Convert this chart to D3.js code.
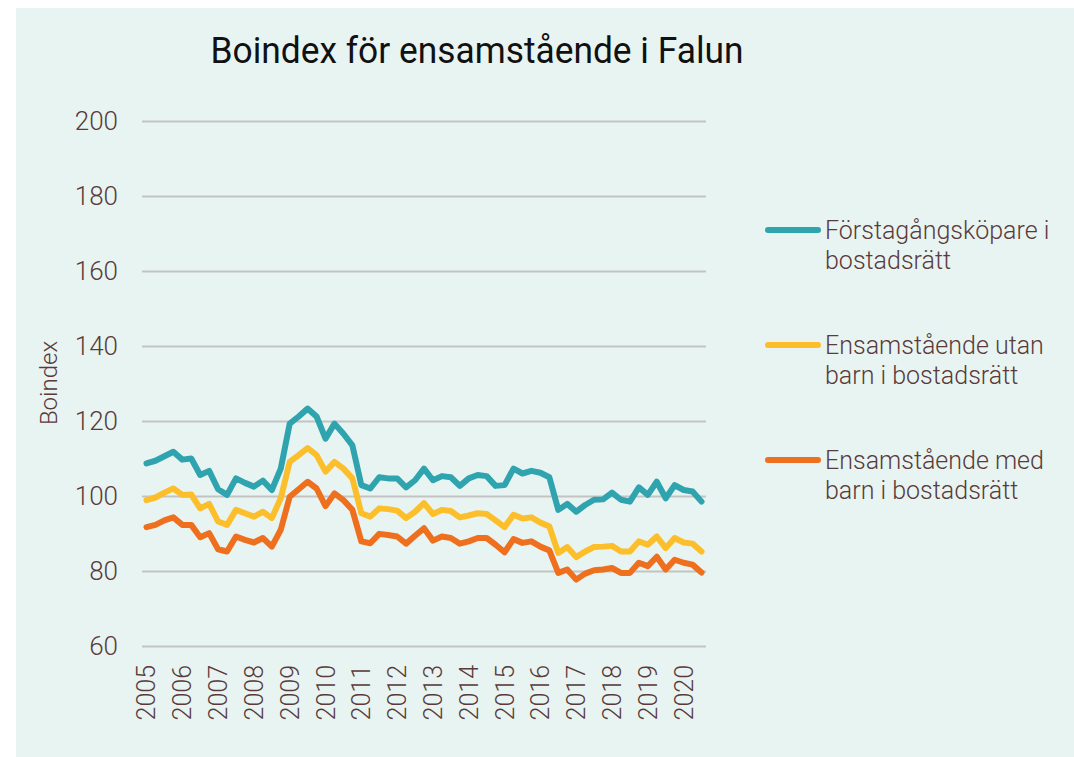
<!DOCTYPE html>
<html>
<head>
<meta charset="utf-8">
<script src="https://cdn.jsdelivr.net/npm/d3@7"></script>
<style>
  body { margin: 0; background: #fff; }
  svg { display: block; font-family: Roboto, "Open Sans", sans-serif; }
</style>
</head>
<body>
<svg></svg>
<script>
const width = 1074;
const height = 757;

// data, quarterly 2005 K1 - 2020 K3
const years = d3.range(2005, 2021);
const yTicks = [60, 80, 100, 120, 140, 160, 180, 200];

const forstagang = [
  108.7, 109.4, 110.6, 111.8, 109.7, 110.0, 105.6, 106.7, 101.8, 100.3,
  104.7, 103.5, 102.5, 104.1, 101.6, 107.3, 119.3, 121.2, 123.3, 121.2,
  115.3, 119.3, 116.6, 113.5, 102.9, 102.0, 105.0, 104.7, 104.7, 102.3,
  104.2, 107.3, 104.2, 105.3, 105.0, 102.7, 104.7, 105.6, 105.3, 102.7,
  102.9, 107.3, 106.0, 106.7, 106.2, 105.0, 96.3, 97.9, 95.8, 97.6,
  99.0, 99.1, 100.9, 99.0, 98.5, 102.3, 100.3, 103.8, 99.4, 102.9,
  101.6, 101.2, 98.5
];
const utanBarn = [
  98.9, 99.6, 100.9, 102.0, 100.3, 100.4, 96.7, 97.9, 93.2, 92.3,
  96.3, 95.4, 94.5, 95.8, 94.1, 99.4, 109.1, 110.9, 112.8, 110.9,
  106.5, 109.1, 107.3, 104.7, 95.4, 94.5, 96.7, 96.5, 96.1, 94.1,
  95.8, 98.1, 95.2, 96.3, 96.0, 94.3, 94.8, 95.4, 95.2, 93.5,
  91.7, 95.0, 94.0, 94.3, 92.9, 91.9, 84.8, 86.4, 83.7, 85.2,
  86.4, 86.5, 86.7, 85.2, 85.2, 87.9, 87.0, 89.2, 86.1, 88.8,
  87.6, 87.3, 85.2
];
const medBarn = [
  91.7, 92.3, 93.5, 94.3, 92.3, 92.3, 89.0, 90.1, 85.8, 85.2,
  89.2, 88.3, 87.6, 88.8, 86.5, 91.0, 99.8, 101.8, 103.8, 102.0,
  97.3, 100.7, 98.9, 96.3, 87.9, 87.4, 89.9, 89.6, 89.2, 87.3,
  89.4, 91.4, 88.1, 89.2, 88.8, 87.3, 87.9, 88.8, 88.8, 87.0,
  85.0, 88.5, 87.5, 87.9, 86.5, 85.5, 79.5, 80.4, 77.7, 79.3,
  80.2, 80.4, 80.8, 79.5, 79.5, 82.2, 81.3, 83.8, 80.4, 83.0,
  82.2, 81.7, 79.6
];

const seriesNames = [
  ["Förstagångsköpare i", "bostadsrätt"],
  ["Ensamstående utan", "barn i bostadsrätt"],
  ["Ensamstående med", "barn i bostadsrätt"]
];
const colors = ["#2fa4ae", "#fcbf2b", "#ee701f"];

// quarter categories
const quarters = [];
years.forEach(y => [1, 2, 3, 4].forEach(q => quarters.push(y + "K" + q)));
quarters.length = forstagang.length;

const series = [forstagang, utanBarn, medBarn];

const svg = d3.select("svg").attr("width", width).attr("height", height);

// panel background
svg.append("rect")
  .attr("x", 16).attr("y", 8)
  .attr("width", width - 16).attr("height", height - 8)
  .attr("fill", "#e8f4f1");

const xScale = d3.scaleBand().domain(quarters).range([142, 706]).padding(0);
const yScale = d3.scaleLinear().domain([60, 200]).range([646, 121]);
const xc = (q) => xScale(q) + xScale.bandwidth() / 2;

// gridlines + y labels
const yAxis = d3.axisLeft(yScale)
  .tickValues(yTicks)
  .tickSize(-(706 - 142))
  .tickPadding(24);

const gy = svg.append("g")
  .attr("transform", "translate(142,0)")
  .call(yAxis);
gy.select(".domain").remove();
gy.selectAll(".tick line").attr("stroke", "#c3c3c3").attr("stroke-width", 2);
gy.selectAll(".tick text")
  .attr("fill", "#5a3a3a")
  .attr("font-size", 26)
  .attr("font-weight", 300)
  .attr("font-family", "Roboto, sans-serif");

// x labels
const xAxis = d3.axisBottom(xScale)
  .tickValues(quarters.filter(q => q.endsWith("K1")))
  .tickFormat(q => q.slice(0, 4))
  .tickSize(0);

const gx = svg.append("g")
  .attr("transform", "translate(0,665)")
  .call(xAxis);
gx.select(".domain").remove();
gx.selectAll(".tick text")
  .attr("fill", "#5a3a3a")
  .attr("font-size", 25)
  .attr("font-weight", 300)
  .attr("font-family", "Roboto, sans-serif")
  .attr("text-anchor", "end")
  .attr("transform", "rotate(-90)")
  .attr("x", 0)
  .attr("y", 0)
  .attr("dy", "0.36em");

// axis title
svg.append("text")
  .attr("transform", "translate(57,383) rotate(-90)")
  .attr("text-anchor", "middle")
  .attr("fill", "#5a3a3a")
  .attr("font-size", 24)
  .attr("font-weight", 300)
  .text("Boindex");

// chart title
svg.append("text")
  .attr("x", 477)
  .attr("y", 63)
  .attr("text-anchor", "middle")
  .attr("fill", "#111")
  .attr("font-size", 36)
  .attr("textLength", 533)
  .attr("lengthAdjust", "spacingAndGlyphs")
  .text("Boindex för ensamstående i Falun");

// lines
const line = d3.line()
  .x((d, i) => xc(quarters[i]))
  .y(d => yScale(d));

svg.selectAll("path.series")
  .data(series)
  .enter()
  .append("path")
  .attr("class", "series")
  .attr("d", d => line(d))
  .attr("fill", "none")
  .attr("stroke", (d, i) => colors[i])
  .attr("stroke-width", 6)
  .attr("stroke-linejoin", "round")
  .attr("stroke-linecap", "round");

// legend
const legend = svg.selectAll("g.legend")
  .data(seriesNames)
  .enter()
  .append("g")
  .attr("class", "legend")
  .attr("transform", (d, i) => `translate(765,${230 + i * 115})`);

legend.append("line")
  .attr("x1", 3).attr("x2", 53)
  .attr("y1", 0).attr("y2", 0)
  .attr("stroke", (d, i) => colors[i])
  .attr("stroke-width", 6)
  .attr("stroke-linecap", "round");

legend.append("text")
  .attr("x", 60)
  .attr("y", 9)
  .attr("fill", "#5a3a3a")
  .attr("font-size", 25)
  .attr("font-weight", 300)
  .selectAll("tspan")
  .data(d => d)
  .enter()
  .append("tspan")
  .attr("x", 60)
  .attr("dy", (d, i) => i === 0 ? 0 : 30)
  .text(d => d);
</script>
</body>
</html>
